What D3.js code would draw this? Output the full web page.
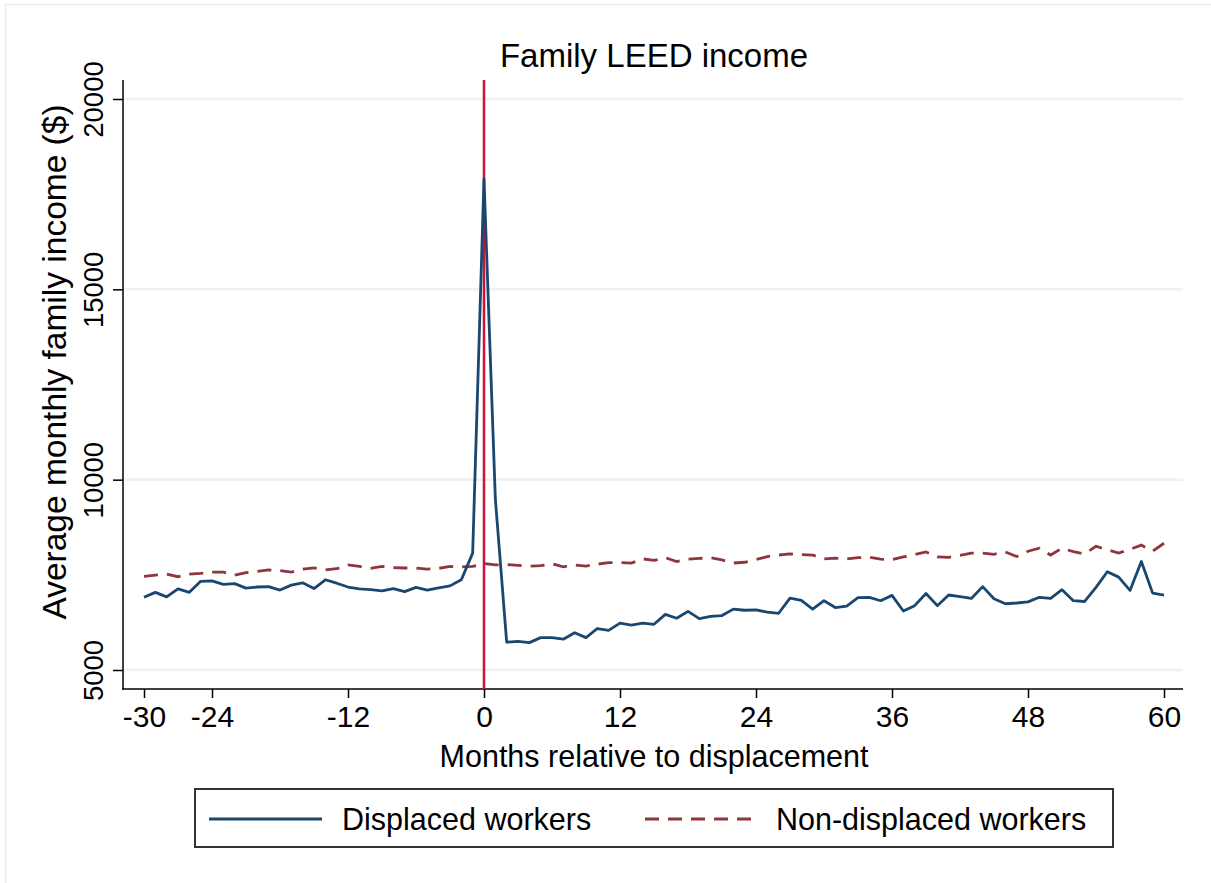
<!DOCTYPE html>
<html>
<head>
<meta charset="utf-8">
<script src="https://cdn.jsdelivr.net/npm/d3@7/dist/d3.min.js"></script>
<style>
  html, body { margin: 0; padding: 0; background: #fff; }
  svg { display: block; }
  text { font-family: "Liberation Sans", Arial, sans-serif; fill: #000; }
</style>
</head>
<body>
<svg id="chart" width="1211" height="883"></svg>
<script>
// Months relative to displacement
const months = d3.range(-30, 61);

// Average monthly family income, displaced workers
const displaced = [
  6910, 7040, 6920, 7130, 7040, 7330, 7340, 7250, 7270, 7150,
  7180, 7190, 7100, 7230, 7290, 7140, 7370, 7280, 7180, 7130,
  7110, 7080, 7140, 7060, 7170, 7100, 7160, 7210, 7370, 8070,
  17900, 9500, 5730, 5750, 5720, 5850, 5850, 5810, 5980, 5850,
  6090, 6040, 6230, 6180, 6230, 6200, 6460, 6360, 6540, 6350,
  6410, 6430, 6600, 6570, 6580, 6520, 6490, 6890, 6830, 6600,
  6820, 6640, 6680, 6900, 6910, 6820, 6960, 6550, 6690, 7010,
  6690, 6970, 6930, 6880, 7190, 6870, 6740, 6760, 6790, 6910,
  6880, 7110, 6820, 6800, 7170, 7580, 7440, 7090, 7850, 7020,
  6970
];

// Average monthly family income, non-displaced workers
const nonDisplaced = [
  7460, 7490, 7520, 7450, 7520, 7540, 7570, 7570, 7490, 7560,
  7590, 7630, 7610, 7570, 7650, 7680, 7630, 7660, 7760, 7720,
  7670, 7720, 7690, 7680, 7680, 7650, 7670, 7720, 7710, 7720,
  7800, 7760, 7770, 7750, 7730, 7740, 7790, 7710, 7760, 7730,
  7780, 7820, 7820, 7810, 7920, 7880, 7950, 7850, 7910, 7930,
  7950, 7890, 7810, 7830, 7900, 7980, 8020, 8050, 8030, 8020,
  7920, 7940, 7920, 7950, 7960, 7910, 7900, 7970, 8030, 8100,
  7970, 7960, 8010, 8070, 8070, 8040, 8100, 7980, 8120, 8200,
  8020, 8200, 8110, 8050, 8250, 8160, 8070, 8170, 8280, 8120,
  8330
];

const xTicks = [-30, -24, -12, 0, 12, 24, 36, 48, 60];
const yTicks = [5000, 10000, 15000, 20000];
const seriesNames = ["Displaced workers", "Non-displaced workers"];

const svg = d3.select("#chart");

// plot region
const plotL = 123, plotR = 1183, plotT = 80, plotB = 689;

const x = d3.scaleLinear().domain([-30, 60]).range([144, 1164]);
const y = d3.scaleLinear().domain([5000, 20000]).range([670, 99]);

// plain hyphen-minus labels
const plain = d => String(d);

// outer graph-region frame
svg.append("rect")
  .attr("x", 5.5).attr("y", 4.5)
  .attr("width", 1230).attr("height", 900)
  .attr("fill", "none").attr("stroke", "#e6eef1").attr("stroke-width", 1.5);

// horizontal gridlines
svg.append("g").selectAll("line").data(yTicks).join("line")
  .attr("x1", plotL).attr("x2", plotR)
  .attr("y1", d => y(d)).attr("y2", d => y(d))
  .attr("stroke", "#eaf2f3").attr("stroke-width", 2.5);

// y axis
const yAxis = svg.append("g")
  .attr("transform", `translate(${plotL},0)`)
  .call(d3.axisLeft(y).tickValues(yTicks).tickSize(10).tickFormat(plain));
yAxis.select(".domain").remove();
yAxis.selectAll(".tick line").attr("stroke", "#000").attr("stroke-width", 1.5);
yAxis.selectAll(".tick text")
  .attr("x", 0).attr("y", 0).attr("dy", null)
  .attr("text-anchor", "middle")
  .attr("transform", "translate(-20,0) rotate(-90)")
  .style("font-size", "27.5px");
svg.append("line")
  .attr("x1", plotL).attr("x2", plotL).attr("y1", plotT).attr("y2", plotB + 0.75)
  .attr("stroke", "#000").attr("stroke-width", 1.5);

// x axis
const xAxis = svg.append("g")
  .attr("transform", `translate(0,${plotB})`)
  .call(d3.axisBottom(x).tickValues(xTicks).tickSize(9).tickPadding(8).tickFormat(plain));
xAxis.select(".domain").remove();
xAxis.selectAll(".tick line").attr("stroke", "#000").attr("stroke-width", 1.5);
xAxis.selectAll(".tick text").style("font-size", "30px");
svg.append("line")
  .attr("x1", plotL - 0.75).attr("x2", plotR).attr("y1", plotB).attr("y2", plotB)
  .attr("stroke", "#000").attr("stroke-width", 1.5);

// displacement month marker
svg.append("line")
  .attr("x1", x(0)).attr("x2", x(0)).attr("y1", plotT).attr("y2", plotB)
  .attr("stroke", "#cf1238").attr("stroke-width", 2.5);

const line = d3.line().x((d, i) => x(months[i])).y(d => y(d));

svg.append("path").datum(nonDisplaced)
  .attr("d", line).attr("fill", "none")
  .attr("stroke", "#90353b").attr("stroke-width", 2.8)
  .attr("stroke-dasharray", "14,9");

svg.append("path").datum(displaced)
  .attr("d", line).attr("fill", "none")
  .attr("stroke", "#1a476f").attr("stroke-width", 2.8)
  .attr("stroke-linejoin", "round");

// titles
svg.append("text").attr("x", 654).attr("y", 67)
  .attr("text-anchor", "middle").style("font-size", "33px")
  .text("Family LEED income");
svg.append("text").attr("x", 654).attr("y", 767)
  .attr("text-anchor", "middle").style("font-size", "30.5px")
  .text("Months relative to displacement");
svg.append("text")
  .attr("transform", "translate(66,362) rotate(-90)")
  .attr("text-anchor", "middle").style("font-size", "33.5px")
  .text("Average monthly family income ($)");

// legend
const lg = svg.append("g");
lg.append("rect").attr("x", 195).attr("y", 789).attr("width", 918).attr("height", 58)
  .attr("fill", "#fff").attr("stroke", "#333").attr("stroke-width", 2);
const legendItems = [
  { name: seriesNames[0], color: "#1a476f", dash: null, x1: 209, x2: 322, tx: 342 },
  { name: seriesNames[1], color: "#90353b", dash: "14,9", x1: 645, x2: 758, tx: 776 }
];
legendItems.forEach(it => {
  lg.append("line").attr("x1", it.x1).attr("x2", it.x2).attr("y1", 819).attr("y2", 819)
    .attr("stroke", it.color).attr("stroke-width", 2.8)
    .attr("stroke-dasharray", it.dash);
  lg.append("text").attr("x", it.tx).attr("y", 830).style("font-size", "30.5px").text(it.name);
});
</script>
</body>
</html>
